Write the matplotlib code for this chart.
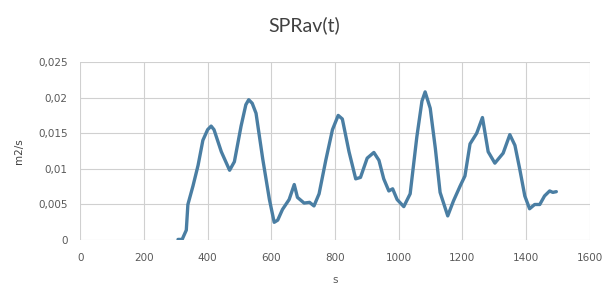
from matplotlib import pyplot as plt
from matplotlib.ticker import FuncFormatter

time_s = [307, 320, 333, 338, 354, 370, 385, 400, 411, 420, 443, 469, 484,
          505, 520, 529, 540, 552, 573, 594, 609, 620, 635, 656, 672, 682,
          703, 720, 734, 750, 771, 792, 810, 823, 844, 865, 880, 901, 922,
          938, 953, 969, 981, 995, 1016, 1036, 1057, 1073, 1083, 1099, 1115,
          1130, 1154, 1172, 1193, 1208, 1224, 1245, 1263, 1281, 1302, 1328,
          1349, 1365, 1380, 1396, 1411, 1427, 1443, 1458, 1474, 1484, 1495]
spr_av = [0.0001, 0.0001, 0.0014, 0.0050, 0.0076, 0.0105, 0.0140, 0.0155,
          0.0160, 0.0155, 0.0124, 0.0098, 0.0110, 0.0160, 0.0190, 0.0197,
          0.0192, 0.0178, 0.0114, 0.0057, 0.0025, 0.0028, 0.0043, 0.0057,
          0.0078, 0.0060, 0.0052, 0.0053, 0.0048, 0.0065, 0.0112, 0.0155,
          0.0175, 0.0170, 0.0124, 0.0086, 0.0088, 0.0115, 0.0123, 0.0112,
          0.0086, 0.0069, 0.0072, 0.0057, 0.0047, 0.0065, 0.0145, 0.0195,
          0.0208, 0.0185, 0.0129, 0.0067, 0.0034, 0.0055, 0.0076, 0.0090,
          0.0135, 0.0150, 0.0172, 0.0124, 0.0108, 0.0122, 0.0148, 0.0133,
          0.0100, 0.0062, 0.0044, 0.0050, 0.0050, 0.0062, 0.0069, 0.0067,
          0.0068]

x_ticks = [0, 200, 400, 600, 800, 1000, 1200, 1400, 1600]
y_ticks = [0, 0.005, 0.01, 0.015, 0.02, 0.025]

tick_font = ['Liberation Sans Narrow', 'DejaVu Sans']
text_grey = "#595959"

fig = plt.figure(figsize=(6.08, 2.95), dpi=100)
ax = fig.add_axes([0.132, 0.186, 0.838, 0.604])

ax.plot(time_s, spr_av, color="#4a7ea3", linewidth=2.4,
        solid_joinstyle="round", solid_capstyle="round")

ax.set_xlim(0, 1600)
ax.set_ylim(0, 0.025)
ax.set_xticks(x_ticks)
ax.set_yticks(y_ticks)
ax.yaxis.set_major_formatter(FuncFormatter(lambda v, p: f"{v:g}".replace(".", ",")))
ax.grid(True, color="#d0d0d0", linewidth=0.8)
ax.set_axisbelow(True)
for s in ax.spines.values():
    s.set_visible(False)
ax.tick_params(length=0, pad=9, labelsize=7.5, labelcolor=text_grey)
for lab in ax.get_xticklabels() + ax.get_yticklabels():
    lab.set_family(tick_font)

ax.set_xlabel("s", fontsize=7.5, color=text_grey, family=tick_font, labelpad=9)
ax.set_ylabel("m2/s", fontsize=7.5, color="#404040", family=tick_font, labelpad=10)
fig.suptitle("SPRav(t)", x=0.5, y=0.945, fontsize=14, color="#404040", family=['Lato', 'DejaVu Sans'])

plt.savefig("out.png", dpi=100)
